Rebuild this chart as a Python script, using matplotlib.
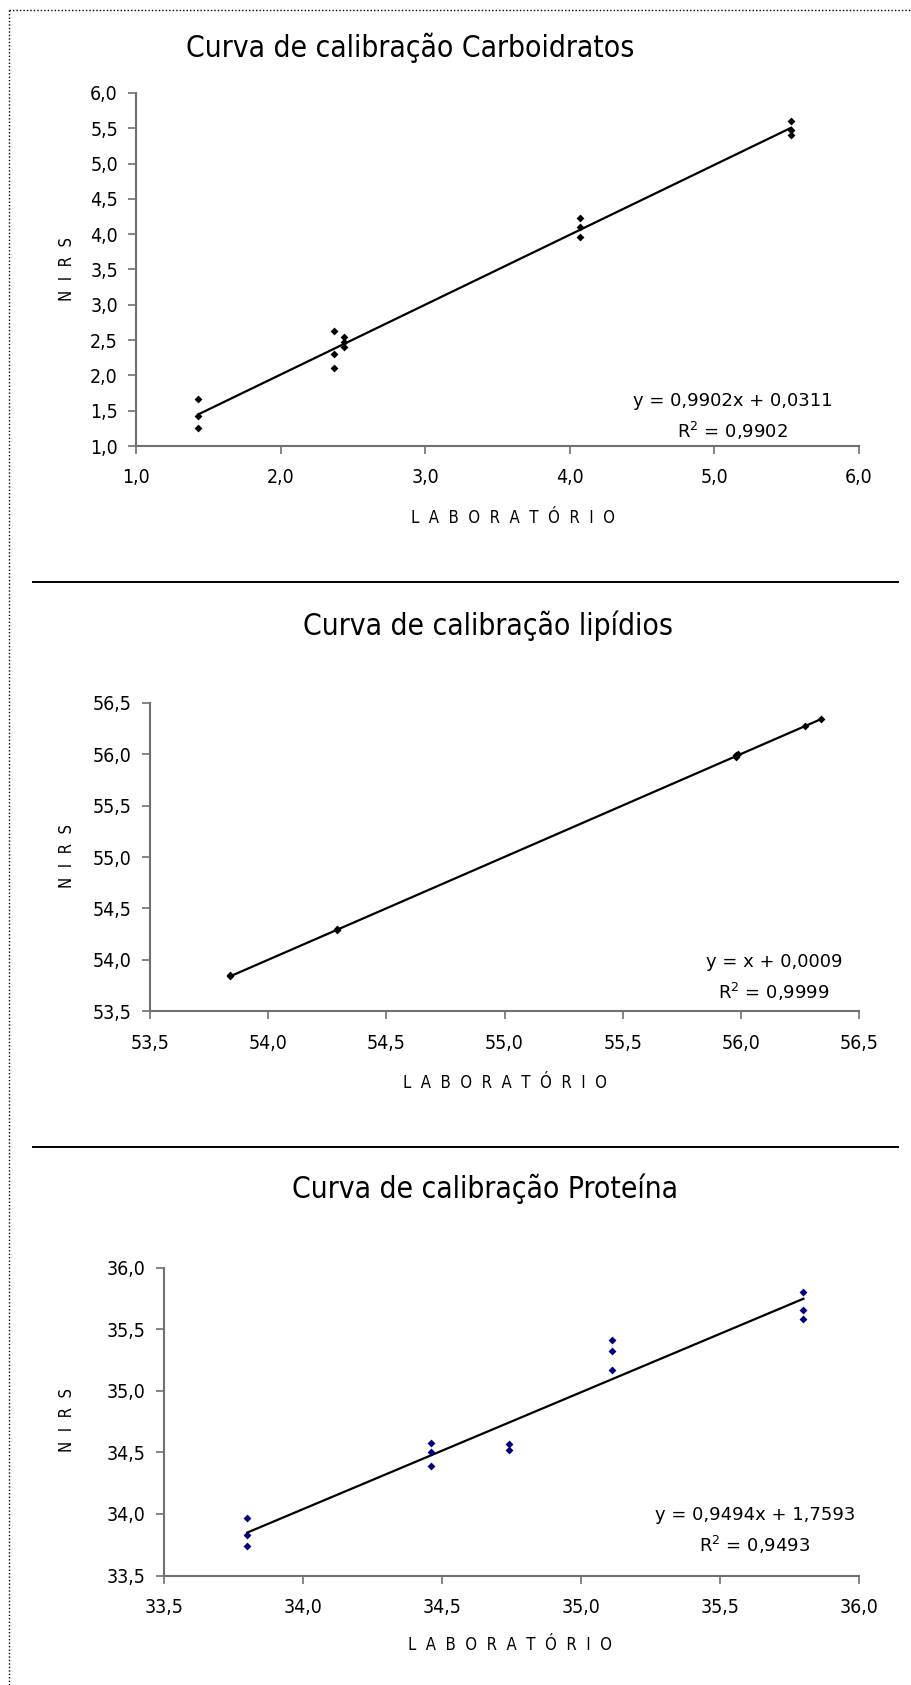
import matplotlib
matplotlib.use("Agg")
import matplotlib.pyplot as plt
from matplotlib.lines import Line2D
import numpy as np

W, H = 911, 1685

# --- data ---
carb_lab = [1.43, 1.43, 1.43, 2.37, 2.37, 2.37, 2.44, 2.44, 2.44,
            4.07, 4.07, 4.07, 5.53, 5.53, 5.53]
carb_nirs = [1.67, 1.42, 1.25, 2.63, 2.31, 2.10, 2.55, 2.48, 2.40,
             4.23, 4.10, 3.96, 5.60, 5.48, 5.40]
carb_fit = (0.9902, 0.0311)
carb_eq = ["y = 0,9902x + 0,0311", "R$^2$ = 0,9902"]

lip_lab = [53.84, 53.84, 54.29, 54.29, 55.98, 55.99, 55.98, 56.27, 56.34]
lip_nirs = [53.84, 53.85, 54.29, 54.30, 55.97, 56.00, 55.99, 56.27, 56.34]
lip_fit = (1.0, 0.0009)
lip_eq = ["y = x + 0,0009", "R$^2$ = 0,9999"]

prot_lab = [33.80, 33.80, 33.80, 34.46, 34.46, 34.46, 34.74, 34.74,
            35.11, 35.11, 35.11, 35.80, 35.80, 35.80]
prot_nirs = [33.97, 33.83, 33.74, 34.58, 34.50, 34.39, 34.57, 34.52,
             35.41, 35.32, 35.17, 35.80, 35.66, 35.58]
prot_fit = (0.9494, 1.7593)
prot_eq = ["y = 0,9494x + 1,7593", "R$^2$ = 0,9493"]

titles = ["Curva de calibração Carboidratos",
          "Curva de calibração lipídios",
          "Curva de calibração Proteína"]
xlabel = "L  A  B  O  R  A  T  Ó  R  I  O"
ylabel = "N  I  R  S"

fig = plt.figure(figsize=(W / 100, H / 100), dpi=100)

cond = dict(family="DejaVu Sans", fontstretch="condensed")


def fx(px):
    return px / W


def fy(py):
    return 1 - py / H


def fmt(vals):
    return [f"{t:.1f}".replace(".", ",") for t in vals]


def panel(box, lab, nirs, fit, eq, lims, xticks, yticks, color, title,
          title_xy, xlab_xy, ylab_xy, eq_xy):
    left, right, top, bottom = box
    ax = fig.add_axes([fx(left), fy(bottom), fx(right - left),
                       (bottom - top) / H])
    ax.scatter(lab, nirs, marker="D", s=16, color=color, zorder=3,
               linewidths=0)
    xs = np.array([min(lab), max(lab)])
    ax.plot(xs, fit[0] * xs + fit[1], color="black", lw=1.6, zorder=2)
    ax.set_xlim(lims)
    ax.set_ylim(lims)
    ax.set_xticks(xticks)
    ax.set_yticks(yticks)
    ax.set_xticklabels(fmt(xticks), **cond)
    ax.set_yticklabels(fmt(yticks), **cond)
    for s in ["top", "right"]:
        ax.spines[s].set_visible(False)
    for s in ["left", "bottom"]:
        ax.spines[s].set_color("#707070")
        ax.spines[s].set_linewidth(1.5)
    ax.tick_params(axis="both", colors="#707070", labelcolor="black",
                   length=6, width=1.2, labelsize=14)
    ax.tick_params(axis="x", pad=10)
    ax.tick_params(axis="y", pad=7)
    ax.patch.set_alpha(0)

    fig.text(fx(title_xy[0]), fy(title_xy[1]), title, ha="center",
             va="center", fontsize=21.5, **cond)
    fig.text(fx(xlab_xy[0]), fy(xlab_xy[1]), xlabel, ha="center",
             va="center", fontsize=12, **cond)
    fig.text(fx(ylab_xy[0]), fy(ylab_xy[1]), ylabel, ha="center",
             va="center", fontsize=12, rotation=90, **cond)
    fig.text(fx(eq_xy[0]), fy(eq_xy[1]), eq[0], ha="center", va="center",
             fontsize=13)
    fig.text(fx(eq_xy[0]), fy(eq_xy[1] + 30), eq[1], ha="center",
             va="center", fontsize=13)


panel((136, 859, 93, 446), carb_lab, carb_nirs, carb_fit, carb_eq,
      (1.0, 6.0), np.arange(1.0, 6.01, 1.0), np.arange(1.0, 6.01, 0.5),
      "black", titles[0], (410, 48), (513, 518), (67, 269), (733, 401))

panel((150, 859, 702.7, 1011.3), lip_lab, lip_nirs, lip_fit, lip_eq,
      (53.5, 56.5), np.arange(53.5, 56.51, 0.5), np.arange(53.5, 56.51, 0.5),
      "black", titles[1], (488, 626), (505, 1083), (67, 856), (774, 962))

panel((164, 859, 1267.7, 1575.5), prot_lab, prot_nirs, prot_fit, prot_eq,
      (33.5, 36.0), np.arange(33.5, 36.01, 0.5), np.arange(33.5, 36.01, 0.5),
      "#000080", titles[2], (485, 1189), (510, 1645), (67, 1420), (755, 1515))

# separators between charts
for sy in (582, 1147):
    fig.add_artist(Line2D([fx(33), fx(898)], [fy(sy), fy(sy)],
                          color="black", lw=1.4))

# dotted page border (top and left)
fig.add_artist(Line2D([fx(9), 1], [fy(10), fy(10)], color="black", lw=1,
                      linestyle=(0, (1, 1.5))))
fig.add_artist(Line2D([fx(9), fx(9)], [fy(10), 0], color="black", lw=1,
                      linestyle=(0, (1, 1.5))))

fig.savefig("out.png", dpi=100, facecolor="white")
